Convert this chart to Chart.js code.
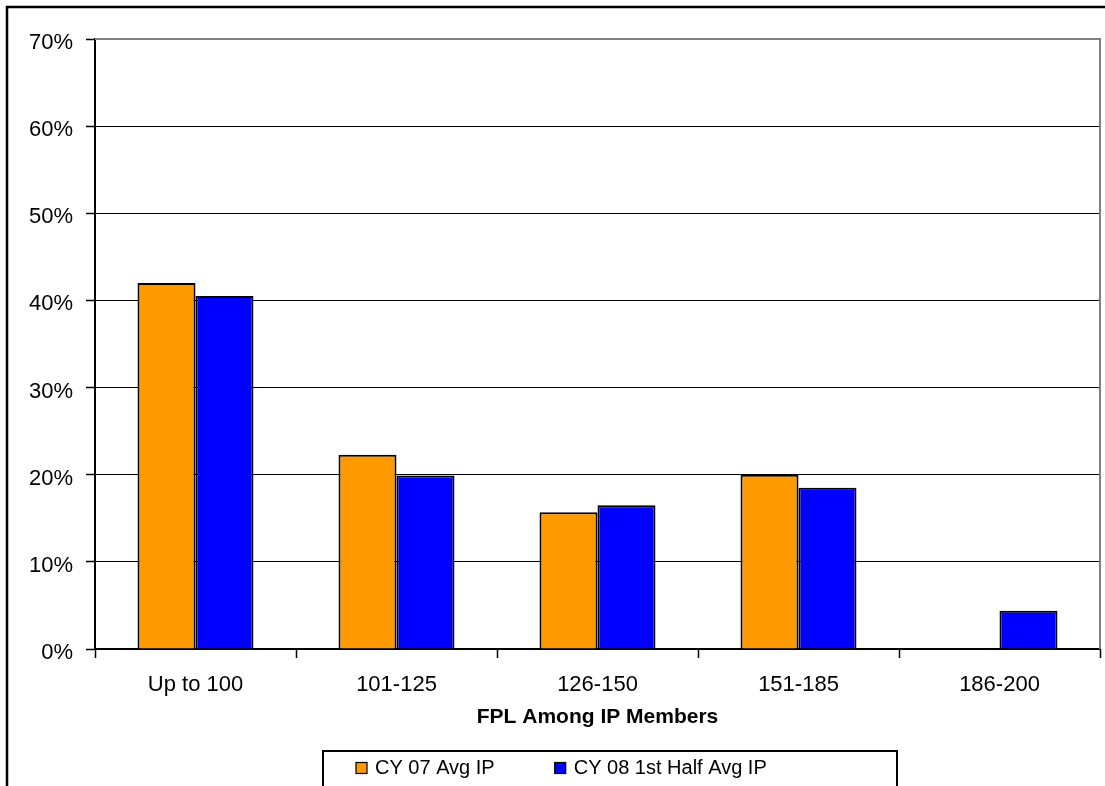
<!DOCTYPE html>
<html>
<head>
<meta charset="utf-8">
<title>FPL Among IP Members</title>
<script src="https://cdn.jsdelivr.net/npm/chart.js@4/dist/chart.umd.min.js"></script>
<style>
  html, body { margin: 0; padding: 0; background: #ffffff; }
  #wrap { position: relative; width: 1105px; height: 786px; }
</style>
</head>
<body>
<div id="wrap"><canvas id="chart"></canvas></div>
<script>
// FPL bands and the share of IP members in each
const categories = ['Up to 100', '101-125', '126-150', '151-185', '186-200'];
const seriesNames = ['CY 07 Avg IP', 'CY 08 1st Half Avg IP'];
const cy07Values = [42.0, 22.3, 15.7, 20.0, null];
const cy08Values = [40.5, 19.9, 16.5, 18.5, 4.4];
const yTickValues = [0, 10, 20, 30, 40, 50, 60, 70];
const axisTitle = 'FPL Among IP Members';

const ORANGE = '#FF9900';
const BLUE = '#0000FF';
const FONT = 'Arial, "Liberation Sans", sans-serif';

// Frame, plot border and boxed legend
const framePlugin = {
  id: 'frame',
  afterDraw(chart) {
    const ctx = chart.ctx;
    const a = chart.chartArea;
    ctx.save();
    // outer frame
    ctx.strokeStyle = '#000';
    ctx.lineWidth = 2.5;
    ctx.beginPath();
    ctx.moveTo(7, 800);
    ctx.lineTo(7, 7);
    ctx.lineTo(1110, 7);
    ctx.stroke();
    // grey plot border, top and right
    ctx.strokeStyle = '#808080';
    ctx.lineWidth = 2;
    ctx.beginPath();
    ctx.moveTo(a.left, a.top);
    ctx.lineTo(a.right, a.top);
    ctx.lineTo(a.right, a.bottom);
    ctx.stroke();

    // legend: entries laid out left to right inside a box
    ctx.font = '20px ' + FONT;
    ctx.textBaseline = 'middle';
    ctx.textAlign = 'left';
    const boxLeft = 323, boxRight = 897, boxTop = 751;
    const pad = 33, swatch = 11, gapText = 8, gapItems = 60;
    const colors = [ORANGE, BLUE];
    let x = boxLeft + pad;
    const cy = 768;
    seriesNames.forEach((name, i) => {
      ctx.fillStyle = colors[i];
      ctx.fillRect(x, cy - swatch / 2, swatch, swatch);
      ctx.strokeStyle = '#000';
      ctx.lineWidth = 1.2;
      ctx.strokeRect(x, cy - swatch / 2, swatch, swatch);
      x += swatch + gapText;
      ctx.fillStyle = '#000';
      ctx.fillText(name, x, cy);
      x += ctx.measureText(name).width + gapItems;
    });
    ctx.strokeStyle = '#000';
    ctx.lineWidth = 2;
    ctx.beginPath();
    ctx.moveTo(boxLeft, 800);
    ctx.lineTo(boxLeft, boxTop);
    ctx.lineTo(boxRight, boxTop);
    ctx.lineTo(boxRight, 800);
    ctx.stroke();
    ctx.restore();
  }
};

new Chart(document.getElementById('chart'), {
  type: 'bar',
  data: {
    labels: categories,
    datasets: [
      {
        label: seriesNames[0],
        data: cy07Values,
        backgroundColor: ORANGE,
        borderColor: '#000',
        borderWidth: 2,
        categoryPercentage: 0.577,
        barPercentage: 1.0
      },
      {
        label: seriesNames[1],
        data: cy08Values,
        backgroundColor: BLUE,
        borderColor: '#000',
        borderWidth: 2,
        categoryPercentage: 0.577,
        barPercentage: 1.0
      }
    ]
  },
  options: {
    responsive: true,
    maintainAspectRatio: false,
    animation: false,
    layout: { padding: { left: 0, top: 39, right: 5, bottom: 0 } },
    plugins: {
      legend: { display: false },
      tooltip: { enabled: false }
    },
    scales: {
      x: {
        grid: {
          display: true,
          drawOnChartArea: false,
          drawTicks: true,
          tickLength: 9,
          tickColor: '#000',
          tickWidth: 1.5,
          offset: true
        },
        border: { display: true, color: '#000', width: 2 },
        ticks: {
          color: '#000',
          font: { family: FONT, size: 22 },
          padding: 14,
          maxRotation: 0,
          autoSkip: false
        },
        title: {
          display: true,
          text: axisTitle,
          color: '#000',
          font: { family: FONT, size: 21, weight: 'bold' },
          padding: { top: 0, bottom: 56 }
        },
        afterFit(scale) { scale.height = 137; }
      },
      y: {
        min: 0,
        max: 70,
        afterBuildTicks(scale) {
          scale.ticks = yTickValues.map(v => ({ value: v }));
        },
        grid: {
          color: c => (c.tick && c.tick.value === 70) ? 'rgba(0,0,0,0)' : '#000',
          lineWidth: 1,
          drawTicks: true,
          tickLength: 9,
          tickColor: '#000',
          tickWidth: 1.5
        },
        border: { display: true, color: '#000', width: 2 },
        ticks: {
          color: '#000',
          font: { family: FONT, size: 22 },
          padding: 13,
          labelOffset: 4,
          callback: v => v + '%'
        },
        afterFit(scale) { scale.width = 95; }
      }
    }
  },
  plugins: [framePlugin]
});
</script>
</body>
</html>
